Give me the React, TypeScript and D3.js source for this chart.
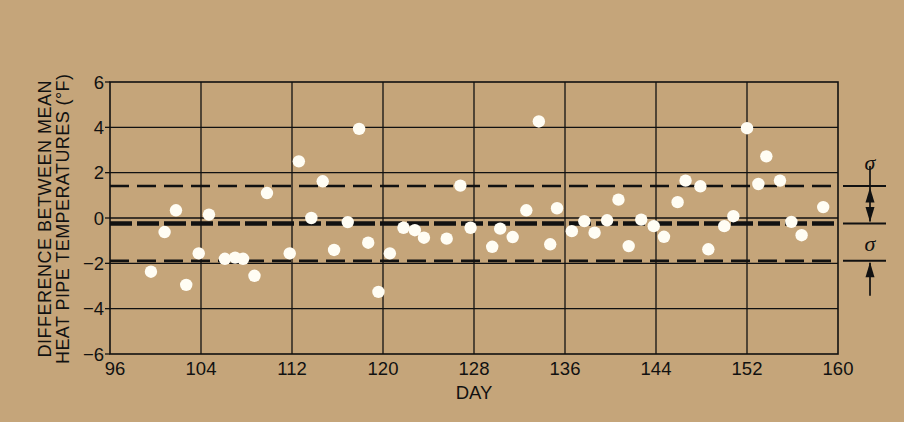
import React, { useRef, useEffect } from "react";
import * as d3 from "d3";

const days = [
  99.6, 100.8, 101.8, 102.7, 103.8, 104.7, 106.1, 107.0, 107.7, 108.7, 109.8,
  111.8, 112.6, 113.7, 114.7, 115.7, 116.9, 117.9, 118.7, 119.6, 120.6, 121.8,
  122.8, 123.6, 125.6, 126.8, 127.7, 129.6, 130.3, 131.4, 132.6, 133.7, 134.7,
  135.3, 136.6, 137.7, 138.6, 139.7, 140.7, 141.6, 142.7, 143.8, 144.7, 145.9,
  146.6, 147.9, 148.6, 150.0, 150.8, 152.0, 153.0, 153.7, 154.9, 155.9, 156.8,
  158.7,
];
// difference between mean heat pipe temperatures (°F)
const diffs = [
  -2.37, -0.62, 0.34, -2.95, -1.56, 0.15, -1.8, -1.75, -1.8, -2.55, 1.1,
  -1.56, 2.5, 0.0, 1.62, -1.41, -0.18, 3.93, -1.09, -3.26, -1.56, -0.43,
  -0.54, -0.87, -0.91, 1.43, -0.43, -1.27, -0.47, -0.84, 0.34, 4.26, -1.16,
  0.43, -0.58, -0.14, -0.65, -0.1, 0.81, -1.24, -0.07, -0.36, -0.83, 0.7,
  1.65, 1.4, -1.38, -0.36, 0.08, 3.96, 1.5, 2.72, 1.65, -0.17, -0.76,
  0.48,
];
const xTicks = [96, 104, 112, 120, 128, 136, 144, 152, 160];
const yTicks = [-6, -4, -2, 0, 2, 4, 6];
const meanDiff = -0.24;
const sigma = 1.65;

const W = 904;
const H = 422;
const font = "'Liberation Sans', Arial, Helvetica, sans-serif";

const App = () => {
  const svgRef = useRef<SVGSVGElement>(null);

  useEffect(() => {
    const root = d3.select(svgRef.current);
    root.selectAll("*").remove();
    const svg = root.attr("width", W).attr("height", H);

    const left = 110;
    const right = 838;
    const top = 82;
    const bottom = 354;

    const x = d3.scaleLinear().domain([96, 160]).range([left, right]);
    const y = d3.scaleLinear().domain([-6, 6]).range([bottom, top]);

    svg.append("rect").attr("width", W).attr("height", H).attr("fill", "#c5a57a");

    const grid = svg.append("g").attr("stroke", "#111").attr("stroke-width", 1.3);
    grid
      .selectAll("line.v")
      .data(xTicks.slice(1, -1))
      .enter()
      .append("line")
      .attr("x1", (d) => x(d))
      .attr("x2", (d) => x(d))
      .attr("y1", top)
      .attr("y2", bottom);
    grid
      .selectAll("line.h")
      .data(yTicks.slice(1, -1))
      .enter()
      .append("line")
      .attr("x1", left)
      .attr("x2", right)
      .attr("y1", (d) => y(d))
      .attr("y2", (d) => y(d));
    // ticks on the left
    grid
      .selectAll("line.t")
      .data(yTicks)
      .enter()
      .append("line")
      .attr("x1", left - 5)
      .attr("x2", left)
      .attr("y1", (d) => y(d))
      .attr("y2", (d) => y(d));
    svg
      .append("rect")
      .attr("x", left)
      .attr("y", top)
      .attr("width", right - left)
      .attr("height", bottom - top)
      .attr("fill", "none")
      .attr("stroke", "#111")
      .attr("stroke-width", 1.6);

    // mean and sigma lines
    svg
      .append("line")
      .attr("x1", left)
      .attr("x2", right)
      .attr("y1", y(meanDiff))
      .attr("y2", y(meanDiff))
      .attr("stroke", "#111")
      .attr("stroke-width", 4.5)
      .attr("stroke-dasharray", "22 5");
    svg
      .selectAll("line.s")
      .data([meanDiff + sigma, meanDiff - sigma])
      .enter()
      .append("line")
      .attr("x1", left)
      .attr("x2", right)
      .attr("y1", (d) => y(d))
      .attr("y2", (d) => y(d))
      .attr("stroke", "#111")
      .attr("stroke-width", 2.6)
      .attr("stroke-dasharray", "19 8");

    // points
    svg
      .append("g")
      .selectAll("circle")
      .data(days)
      .enter()
      .append("circle")
      .attr("cx", (d) => x(d))
      .attr("cy", (d, i) => y(diffs[i]))
      .attr("r", 6.2)
      .attr("fill", "#fffdf4");

    // axis labels
    svg
      .append("g")
      .selectAll("text")
      .data(yTicks)
      .enter()
      .append("text")
      .attr("x", left - 6)
      .attr("y", (d) => y(d) + 6.5)
      .attr("text-anchor", "end")
      .attr("font-family", font)
      .attr("font-size", 18.5)
      .attr("fill", "#111")
      .text((d) => d3.format("")(d));
    svg
      .append("g")
      .selectAll("text")
      .data(xTicks)
      .enter()
      .append("text")
      .attr("x", (d, i) => x(d) + (i === 0 ? 5 : 0))
      .attr("y", 375)
      .attr("text-anchor", "middle")
      .attr("font-family", font)
      .attr("font-size", 18.5)
      .attr("fill", "#111")
      .text((d) => d);
    svg
      .append("text")
      .attr("x", (left + right) / 2)
      .attr("y", 399)
      .attr("text-anchor", "middle")
      .attr("font-family", font)
      .attr("font-size", 18.5)
      .attr("fill", "#111")
      .text("DAY");

    const titleLines = ["DIFFERENCE BETWEEN MEAN", "HEAT PIPE TEMPERATURES (°F)"];
    const titleLens = [277, 290];
    svg
      .append("g")
      .selectAll("text")
      .data(titleLines)
      .enter()
      .append("text")
      .attr("transform", (d, i) => `translate(${50.5 + i * 18},219) rotate(-90)`)
      .attr("text-anchor", "middle")
      .attr("font-family", font)
      .attr("font-size", 18)
      .attr("fill", "#111")
      .attr("textLength", (d, i) => titleLens[i])
      .attr("lengthAdjust", "spacing")
      .text((d) => d);

    // sigma annotation on the right
    const ann = svg.append("g").attr("stroke", "#111").attr("fill", "#111");
    const ax = 870;
    ann
      .selectAll("line.a")
      .data([meanDiff + sigma, meanDiff, meanDiff - sigma])
      .enter()
      .append("line")
      .attr("x1", 843)
      .attr("x2", 886)
      .attr("y1", (d) => y(d))
      .attr("y2", (d) => y(d))
      .attr("stroke-width", 2);
    const yU = y(meanDiff + sigma);
    const yM = y(meanDiff);
    const yL = y(meanDiff - sigma);
    ann.append("line").attr("x1", ax).attr("x2", ax).attr("y1", 166).attr("y2", yM - 2).attr("stroke-width", 1.7);
    ann.append("line").attr("x1", ax).attr("x2", ax).attr("y1", yL + 2).attr("y2", yL + 35).attr("stroke-width", 1.7);
    const head = (tipY: number, dir: number) =>
      `M${ax},${tipY} L${ax - 4.5},${tipY + dir * 15} L${ax + 4.5},${tipY + dir * 15} Z`;
    ann.append("path").attr("d", head(yU + 1.5, 1)).attr("stroke", "none");
    ann.append("path").attr("d", head(yM - 1.5, -1)).attr("stroke", "none");
    ann.append("path").attr("d", head(yL + 1.5, 1)).attr("stroke", "none");
    svg
      .selectAll("text.sig")
      .data([yU - 22, yM + 22])
      .enter()
      .append("text")
      .attr("x", ax)
      .attr("y", (d) => d + 6)
      .attr("text-anchor", "middle")
      .attr("font-family", "'Liberation Serif', 'DejaVu Serif', serif")
      .attr("font-style", "italic")
      .attr("font-size", 22)
      .attr("fill", "#111")
      .text("σ");
  }, []);

  return <svg ref={svgRef} style={{ position: "absolute", left: 0, top: 0 }} />;
};

export default App;
